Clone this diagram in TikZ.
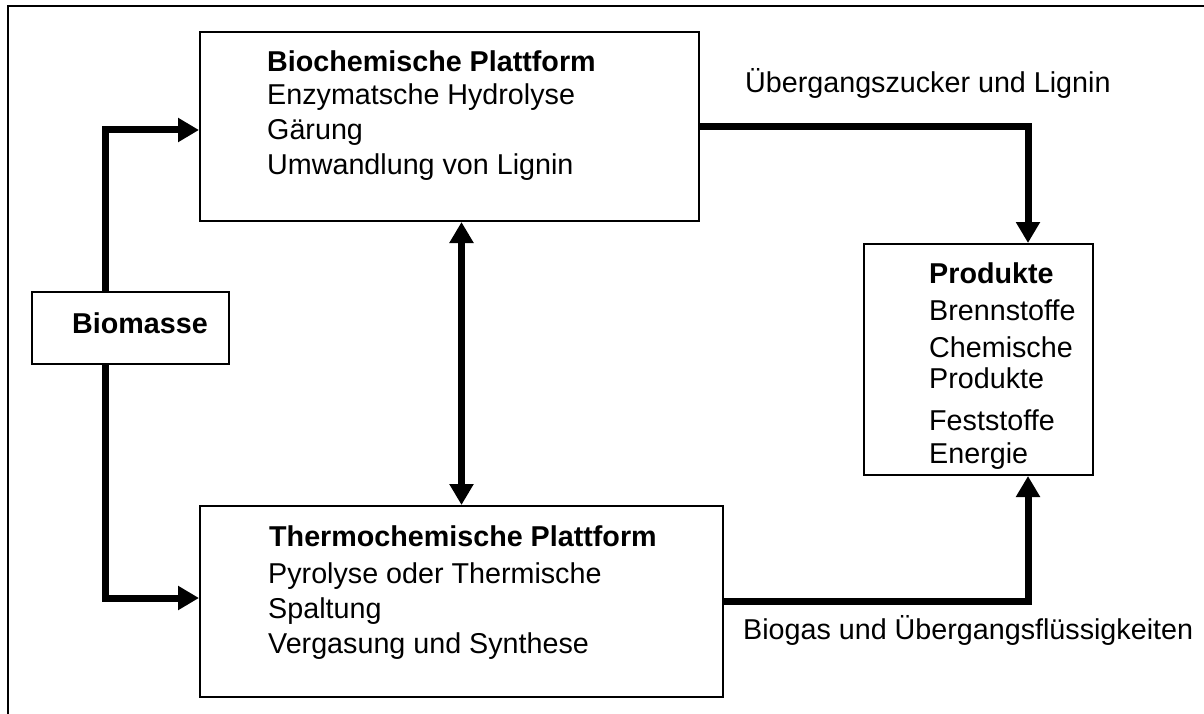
\documentclass[tikz,border=0pt]{standalone}
\usepackage{fontspec}
\setmainfont{Liberation Sans}
\usetikzlibrary{arrows.meta}
\begin{document}
\begin{tikzpicture}[x=1pt,y=-1pt,
  box/.style={draw=black,line width=2pt,inner sep=0pt,fill=none},
  arr/.style={line width=7pt,-{Triangle[length=21pt,width=23pt]}},
  darr/.style={line width=7pt,{Triangle[length=21pt,width=23pt]}-{Triangle[length=21pt,width=23pt]}},
  txt/.style={anchor=base west,inner sep=0pt,font=\fontsize{28.7}{34}\selectfont},
  btxt/.style={txt,font=\fontsize{28.7}{34}\selectfont\bfseries}]
\useasboundingbox (0,0) rectangle (1204,714);
\draw[line width=2pt] (8,714) -- (8,6) -- (1204,6);
% boxes
\node[box,minimum width=499pt,minimum height=189pt] (bio) at (449.5,126.5) {};
\node[box,minimum width=523pt,minimum height=191pt] (thermo) at (461.5,601.5) {};
\node[box,minimum width=197pt,minimum height=72pt] (bm) at (130.5,328) {};
\node[box,minimum width=229pt,minimum height=231pt] (prod) at (978.5,359.5) {};
% texts
\node[btxt] (t1) at (267,72) {Biochemische Plattform};
\node[txt] (t2) at (267,105) {Enzymatsche Hydrolyse};
\node[txt] (t3) at (267,140) {Gärung};
\node[txt] (t4) at (267,175) {Umwandlung von Lignin};
\node[btxt] (u1) at (269,546) {Thermochemische Plattform};
\node[txt] (u2) at (268,583) {Pyrolyse oder Thermische};
\node[txt] (u3) at (268,618) {Spaltung};
\node[txt] (u4) at (268,653) {Vergasung und Synthese};
\node[btxt,anchor=base] (bmt) at (140,333) {Biomasse};
\node[btxt] (p1) at (929,283) {Produkte};
\node[txt] (p2) at (929,320) {Brennstoffe};
\node[txt] (p3) at (929,357) {Chemische};
\node[txt] (p4) at (929,388) {Produkte};
\node[txt] (p5) at (929,430) {Feststoffe};
\node[txt] (p6) at (929,463) {Energie};
\node[txt] (l1) at (745,93) {Übergangszucker und Lignin};
\node[txt] (l2) at (743,639) {Biogas und Übergangsflüssigkeiten};
% connectors
\draw[arr] ([xshift=-25.5pt]bm.north) |- ([yshift=-3.5pt]bio.west);
\draw[arr] ([xshift=-25.5pt]bm.south) |- ([yshift=3.5pt]thermo.west);
\draw[darr] (thermo.north |- bio.south) -- (thermo.north);
\draw[arr] (bio.east) -| ([xshift=49.5pt]prod.north);
\draw[arr] (thermo.east) -| ([xshift=49.5pt]prod.south);
\end{tikzpicture}
\end{document}
